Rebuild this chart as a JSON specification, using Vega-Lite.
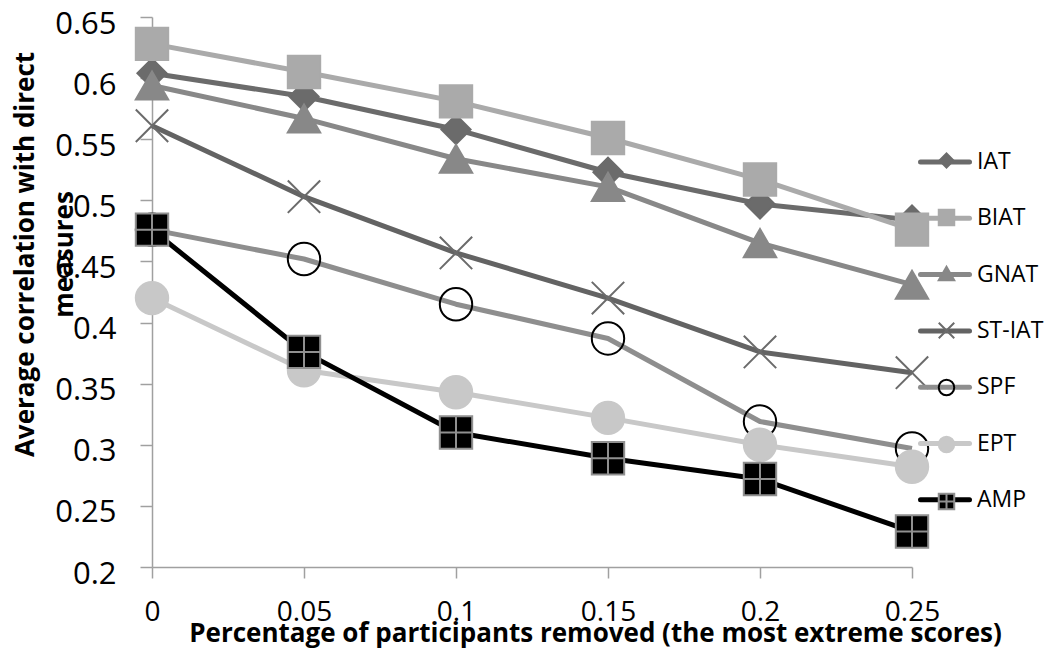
{
  "$schema": "https://vega.github.io/schema/vega-lite/v6.json",
  "width": 760,
  "height": 550,
  "autosize": "none",
  "padding": {"left": 152, "top": 17, "right": 144, "bottom": 91},
  "background": "white",
  "config": {"view": {"stroke": null}, "font": "Open Sans"},
  "data": {
    "values": [
      {"measure": "IAT", "removed": 0, "correlation": 0.604},
      {"measure": "IAT", "removed": 0.05, "correlation": 0.585},
      {"measure": "IAT", "removed": 0.1, "correlation": 0.558},
      {"measure": "IAT", "removed": 0.15, "correlation": 0.523},
      {"measure": "IAT", "removed": 0.2, "correlation": 0.497},
      {"measure": "IAT", "removed": 0.25, "correlation": 0.484},
      {"measure": "BIAT", "removed": 0, "correlation": 0.628},
      {"measure": "BIAT", "removed": 0.05, "correlation": 0.605},
      {"measure": "BIAT", "removed": 0.1, "correlation": 0.581},
      {"measure": "BIAT", "removed": 0.15, "correlation": 0.551},
      {"measure": "BIAT", "removed": 0.2, "correlation": 0.517},
      {"measure": "BIAT", "removed": 0.25, "correlation": 0.476},
      {"measure": "GNAT", "removed": 0, "correlation": 0.594},
      {"measure": "GNAT", "removed": 0.05, "correlation": 0.567},
      {"measure": "GNAT", "removed": 0.1, "correlation": 0.534},
      {"measure": "GNAT", "removed": 0.15, "correlation": 0.511},
      {"measure": "GNAT", "removed": 0.2, "correlation": 0.465},
      {"measure": "GNAT", "removed": 0.25, "correlation": 0.431},
      {"measure": "ST-IAT", "removed": 0, "correlation": 0.561},
      {"measure": "ST-IAT", "removed": 0.05, "correlation": 0.503},
      {"measure": "ST-IAT", "removed": 0.1, "correlation": 0.457},
      {"measure": "ST-IAT", "removed": 0.15, "correlation": 0.42},
      {"measure": "ST-IAT", "removed": 0.2, "correlation": 0.376},
      {"measure": "ST-IAT", "removed": 0.25, "correlation": 0.359},
      {"measure": "SPF", "removed": 0, "correlation": 0.476},
      {"measure": "SPF", "removed": 0.05, "correlation": 0.452},
      {"measure": "SPF", "removed": 0.1, "correlation": 0.415},
      {"measure": "SPF", "removed": 0.15, "correlation": 0.387},
      {"measure": "SPF", "removed": 0.2, "correlation": 0.319},
      {"measure": "SPF", "removed": 0.25, "correlation": 0.297},
      {"measure": "EPT", "removed": 0, "correlation": 0.42},
      {"measure": "EPT", "removed": 0.05, "correlation": 0.361},
      {"measure": "EPT", "removed": 0.1, "correlation": 0.343},
      {"measure": "EPT", "removed": 0.15, "correlation": 0.322},
      {"measure": "EPT", "removed": 0.2, "correlation": 0.3},
      {"measure": "EPT", "removed": 0.25, "correlation": 0.282},
      {"measure": "AMP", "removed": 0, "correlation": 0.476},
      {"measure": "AMP", "removed": 0.05, "correlation": 0.376},
      {"measure": "AMP", "removed": 0.1, "correlation": 0.31},
      {"measure": "AMP", "removed": 0.15, "correlation": 0.289},
      {"measure": "AMP", "removed": 0.2, "correlation": 0.272},
      {"measure": "AMP", "removed": 0.25, "correlation": 0.229}
    ]
  },
  "encoding": {
    "x": {
      "field": "removed",
      "type": "quantitative",
      "scale": {"domain": [0, 0.25], "nice": false, "zero": false},
      "axis": {
        "values": [0, 0.05, 0.1, 0.15, 0.2, 0.25],
        "format": "~g",
        "grid": false,
        "domainColor": "#a0a0a0",
        "domainWidth": 1.5,
        "tickColor": "#a0a0a0",
        "tickWidth": 1.5,
        "tickSize": 11,
        "labelFont": "Open Sans",
        "labelFontSize": 28,
        "labelColor": "#000000",
        "labelBaseline": "alphabetic",
        "labelPadding": 42,
        "labelFlush": false,
        "labelOverlap": false,
        "title": "Percentage of participants removed (the most extreme scores)",
        "titleFont": "Open Sans",
        "titleFontSize": 26,
        "titleFontWeight": "bold",
        "titleColor": "#000000",
        "titleX": 443,
        "titleY": 74,
        "titleAlign": "center",
        "titleBaseline": "alphabetic"
      }
    },
    "y": {
      "field": "correlation",
      "type": "quantitative",
      "scale": {"domain": [0.2, 0.65], "nice": false, "zero": false},
      "axis": {
        "values": [0.2, 0.25, 0.3, 0.35, 0.4, 0.45, 0.5, 0.55, 0.6, 0.65],
        "format": "~g",
        "grid": false,
        "domainColor": "#a0a0a0",
        "domainWidth": 1.5,
        "tickColor": "#a0a0a0",
        "tickWidth": 1.5,
        "tickSize": 12,
        "labelFont": "Open Sans",
        "labelFontSize": 31,
        "labelColor": "#000000",
        "labelBaseline": "alphabetic",
        "labelOffset": 16,
        "labelPadding": 24,
        "labelFlush": false,
        "labelOverlap": false,
        "title": ["Average correlation with direct", "measures"],
        "titleFont": "Open Sans",
        "titleFontSize": 26,
        "titleFontWeight": "bold",
        "titleColor": "#000000",
        "titleAngle": -90,
        "titleX": -119,
        "titleY": 237,
        "titleAlign": "center",
        "titleBaseline": "alphabetic",
        "titleLineHeight": 39
      }
    }
  },
  "layer": [
    {
      "mark": {"type": "line", "strokeWidth": 5, "strokeJoin": "round"},
      "encoding": {
        "color": {
          "field": "measure",
          "type": "nominal",
          "scale": {
            "domain": ["IAT", "BIAT", "GNAT", "ST-IAT", "SPF", "EPT", "AMP"],
            "range": ["#6b6b6b", "#aaaaaa", "#888888", "#636363", "#8e8e8e", "#c8c8c8", "#000000"]
          },
          "legend": {
            "orient": "none",
            "legendX": 766,
            "legendY": 118,
            "title": null,
            "padding": 0,
            "symbolType": "stroke",
            "symbolSize": 2401,
            "symbolStrokeWidth": 5,
            "labelFont": "Open Sans",
            "labelFontSize": 23,
            "labelColor": "#000000",
            "labelOffset": 5,
            "rowPadding": 17.3,
            "encode": {"symbols": {"update": {"strokeCap": {"value": "round"}}}}
          }
        }
      }
    },
    {
      "mark": {"type": "point", "filled": true, "size": 1050, "strokeWidth": 2, "opacity": 1},
      "encoding": {
        "shape": {
          "field": "measure",
          "type": "nominal",
          "sort": ["IAT", "BIAT", "GNAT", "ST-IAT", "SPF", "EPT", "AMP"],
          "scale": {
            "range": ["M-0.9,0L0,-0.9L0.9,0L0,0.9Z", "square", "triangle-up", "M-1,-1L1,1M-1,1L1,-1", "circle", "circle", "M-1,-1H1V1H-1ZM-1,0H1M0,-1V1"]
          },
          "legend": {
            "orient": "none",
            "legendX": 783,
            "legendY": 132,
            "title": null,
            "padding": 0,
            "symbolSize": 240,
            "symbolStrokeWidth": 2,
            "symbolOpacity": 1,
            "symbolFillColor": {"expr": "scale('fill', datum.value)"},
            "symbolStrokeColor": {"expr": "scale('stroke', datum.value)"},
            "labelFont": "Open Sans",
            "labelFontSize": 23,
            "labelExpr": "''",
            "rowPadding": 32
          }
        },
        "fill": {
          "field": "measure",
          "type": "nominal",
          "sort": ["IAT", "BIAT", "GNAT", "ST-IAT", "SPF", "EPT", "AMP"],
          "scale": {
            "range": ["#6b6b6b", "#aaaaaa", "#888888", "transparent", "transparent", "#c8c8c8", "#000000"]
          },
          "legend": null
        },
        "stroke": {
          "field": "measure",
          "type": "nominal",
          "sort": ["IAT", "BIAT", "GNAT", "ST-IAT", "SPF", "EPT", "AMP"],
          "scale": {
            "range": ["#6b6b6b", "#aaaaaa", "#888888", "#6b6b6b", "#000000", "#c8c8c8", "#909090"]
          },
          "legend": null
        }
      }
    }
  ]
}
